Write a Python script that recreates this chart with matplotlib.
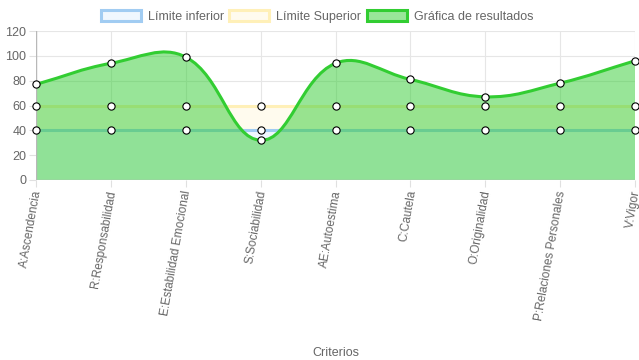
import matplotlib
matplotlib.use("Agg")
import matplotlib.pyplot as plt
import numpy as np
from matplotlib.path import Path
from matplotlib.patches import PathPatch, Rectangle
from matplotlib.transforms import ScaledTranslation

plt.rcParams['font.family'] = ['Liberation Sans', 'DejaVu Sans']

categories = ["A:Ascendencia", "R:Responsabilidad", "E:Estabilidad Emocional",
              "S:Sociabilidad", "AE:Autoestima", "C:Cautela", "O:Originalidad",
              "P:Relaciones Personales", "V:Vigor"]
limite_inferior = [40, 40, 40, 40, 40, 40, 40, 40, 40]
limite_superior = [60, 60, 60, 60, 60, 60, 60, 60, 60]
resultados = [77, 94, 99, 32, 94, 81, 67, 78, 96]
y_ticks = [0, 20, 40, 60, 80, 100, 120]
legend_labels = ["Límite inferior", "Límite Superior", "Gráfica de resultados"]
x_title = "Criterios"

W, H = 639, 360
fig = plt.figure(figsize=(W / 100, H / 100), dpi=100)
L, R, T, B = 36, 635, 31, 180
ax = fig.add_axes([L / W, 1 - B / H, (R - L) / W, (B - T) / H])
ax.set_xlim(0, len(categories) - 1)
ax.set_ylim(0, 120)

grey = '#666666'
blue_line = (0.63, 0.80, 0.95)
blue_fill = (0.94, 0.97, 0.995)
yel_line = (1.0, 0.94, 0.72)
yel_fill = (1.0, 0.985, 0.935)
green = '#32cd32'
green_fill = (50 / 255, 205 / 255, 50 / 255, 0.5)

x = np.arange(len(categories))

# fills for limits
ax.fill_between(x, 0, limite_inferior, color=blue_fill, lw=0, zorder=1)
ax.fill_between(x, limite_inferior, limite_superior, color=yel_fill, lw=0, zorder=1)
ax.plot(x, limite_inferior, color=blue_line, lw=2.2, zorder=2, solid_capstyle='butt')
ax.plot(x, limite_superior, color=yel_line, lw=2.2, zorder=2, solid_capstyle='butt')

# Chart.js style spline (tension 0.4) computed in pixel space
pts = ax.transData.transform(np.column_stack([x, resultados]))
t = 0.4
n = len(pts)
cps = []
for i in range(n):
    prev = pts[i - 1] if i > 0 else pts[i]
    cur = pts[i]
    nxt = pts[i + 1] if i < n - 1 else pts[i]
    d01 = np.hypot(*(cur - prev))
    d12 = np.hypot(*(nxt - cur))
    s = d01 + d12
    s01 = d01 / s if s else 0
    s12 = d12 / s if s else 0
    cps.append((cur - t * s01 * (nxt - prev), cur + t * s12 * (nxt - prev)))
verts = [pts[0]]
codes = [Path.MOVETO]
for i in range(n - 1):
    verts += [cps[i][1], cps[i + 1][0], pts[i + 1]]
    codes += [Path.CURVE4] * 3
inv = ax.transData.inverted()
verts_d = inv.transform(np.array(verts))
line_path = Path(verts_d, codes)
fill_verts = list(verts_d) + [[x[-1], 0], [x[0], 0], verts_d[0]]
fill_codes = codes + [Path.LINETO, Path.LINETO, Path.CLOSEPOLY]
ax.add_patch(PathPatch(Path(fill_verts, fill_codes), facecolor=green_fill, lw=0, zorder=3))
ax.add_patch(PathPatch(line_path, facecolor='none', edgecolor=green, lw=2.2, zorder=4))

for ys in (limite_inferior, limite_superior, resultados):
    ax.plot(x, ys, ls='none', marker='o', ms=5.2, mfc='white', mec='black', mew=0.8, zorder=6,
            clip_on=False)

# axes styling
for s in ax.spines.values():
    s.set_visible(False)
ax.axhline(0, color=(0.72, 0.72, 0.72), lw=1, zorder=5)
ax.axvline(0, color=(0.72, 0.72, 0.72), lw=1, zorder=5)
ax.set_yticks(y_ticks)
ax.set_xticks(x)
ax.set_xticklabels([])
off = ScaledTranslation(1.8 / 100, -10.5 / 100, fig.dpi_scale_trans)
for i, c in enumerate(categories):
    ax.text(x[i], 0, c, rotation=80, ha='right', va='center', rotation_mode='anchor',
            color=grey, fontsize=8.5, transform=ax.transData + off, clip_on=False)
ax.grid(True, color=(0.9, 0.9, 0.9), lw=0.8, zorder=0)
ax.set_axisbelow(True)
ax.tick_params(axis='both', colors=(0.88, 0.88, 0.88), labelcolor=grey, labelsize=9, length=5, width=0.8)
ax.tick_params(axis='y', pad=2)
ax.set_xlabel(x_title, color=grey, fontsize=9)
ax.xaxis.set_label_coords(0.5, (B - 347) / (B - T))

# legend drawn manually
lx = [101, 229, 367]
fcs = [blue_fill, yel_fill, (0.6, 0.9, 0.6)]
ecs = [blue_line, yel_line, green]
for i in range(3):
    fig.add_artist(Rectangle(((lx[i]) / W, 1 - 21 / H), 40 / W, 11 / H, transform=fig.transFigure,
                             facecolor=fcs[i], edgecolor=ecs[i], lw=2.2))
    fig.text((lx[i] + 47) / W, 1 - 20 / H, legend_labels[i], color=grey, fontsize=9,
             ha='left', va='baseline')

fig.savefig("out.png", dpi=100)
